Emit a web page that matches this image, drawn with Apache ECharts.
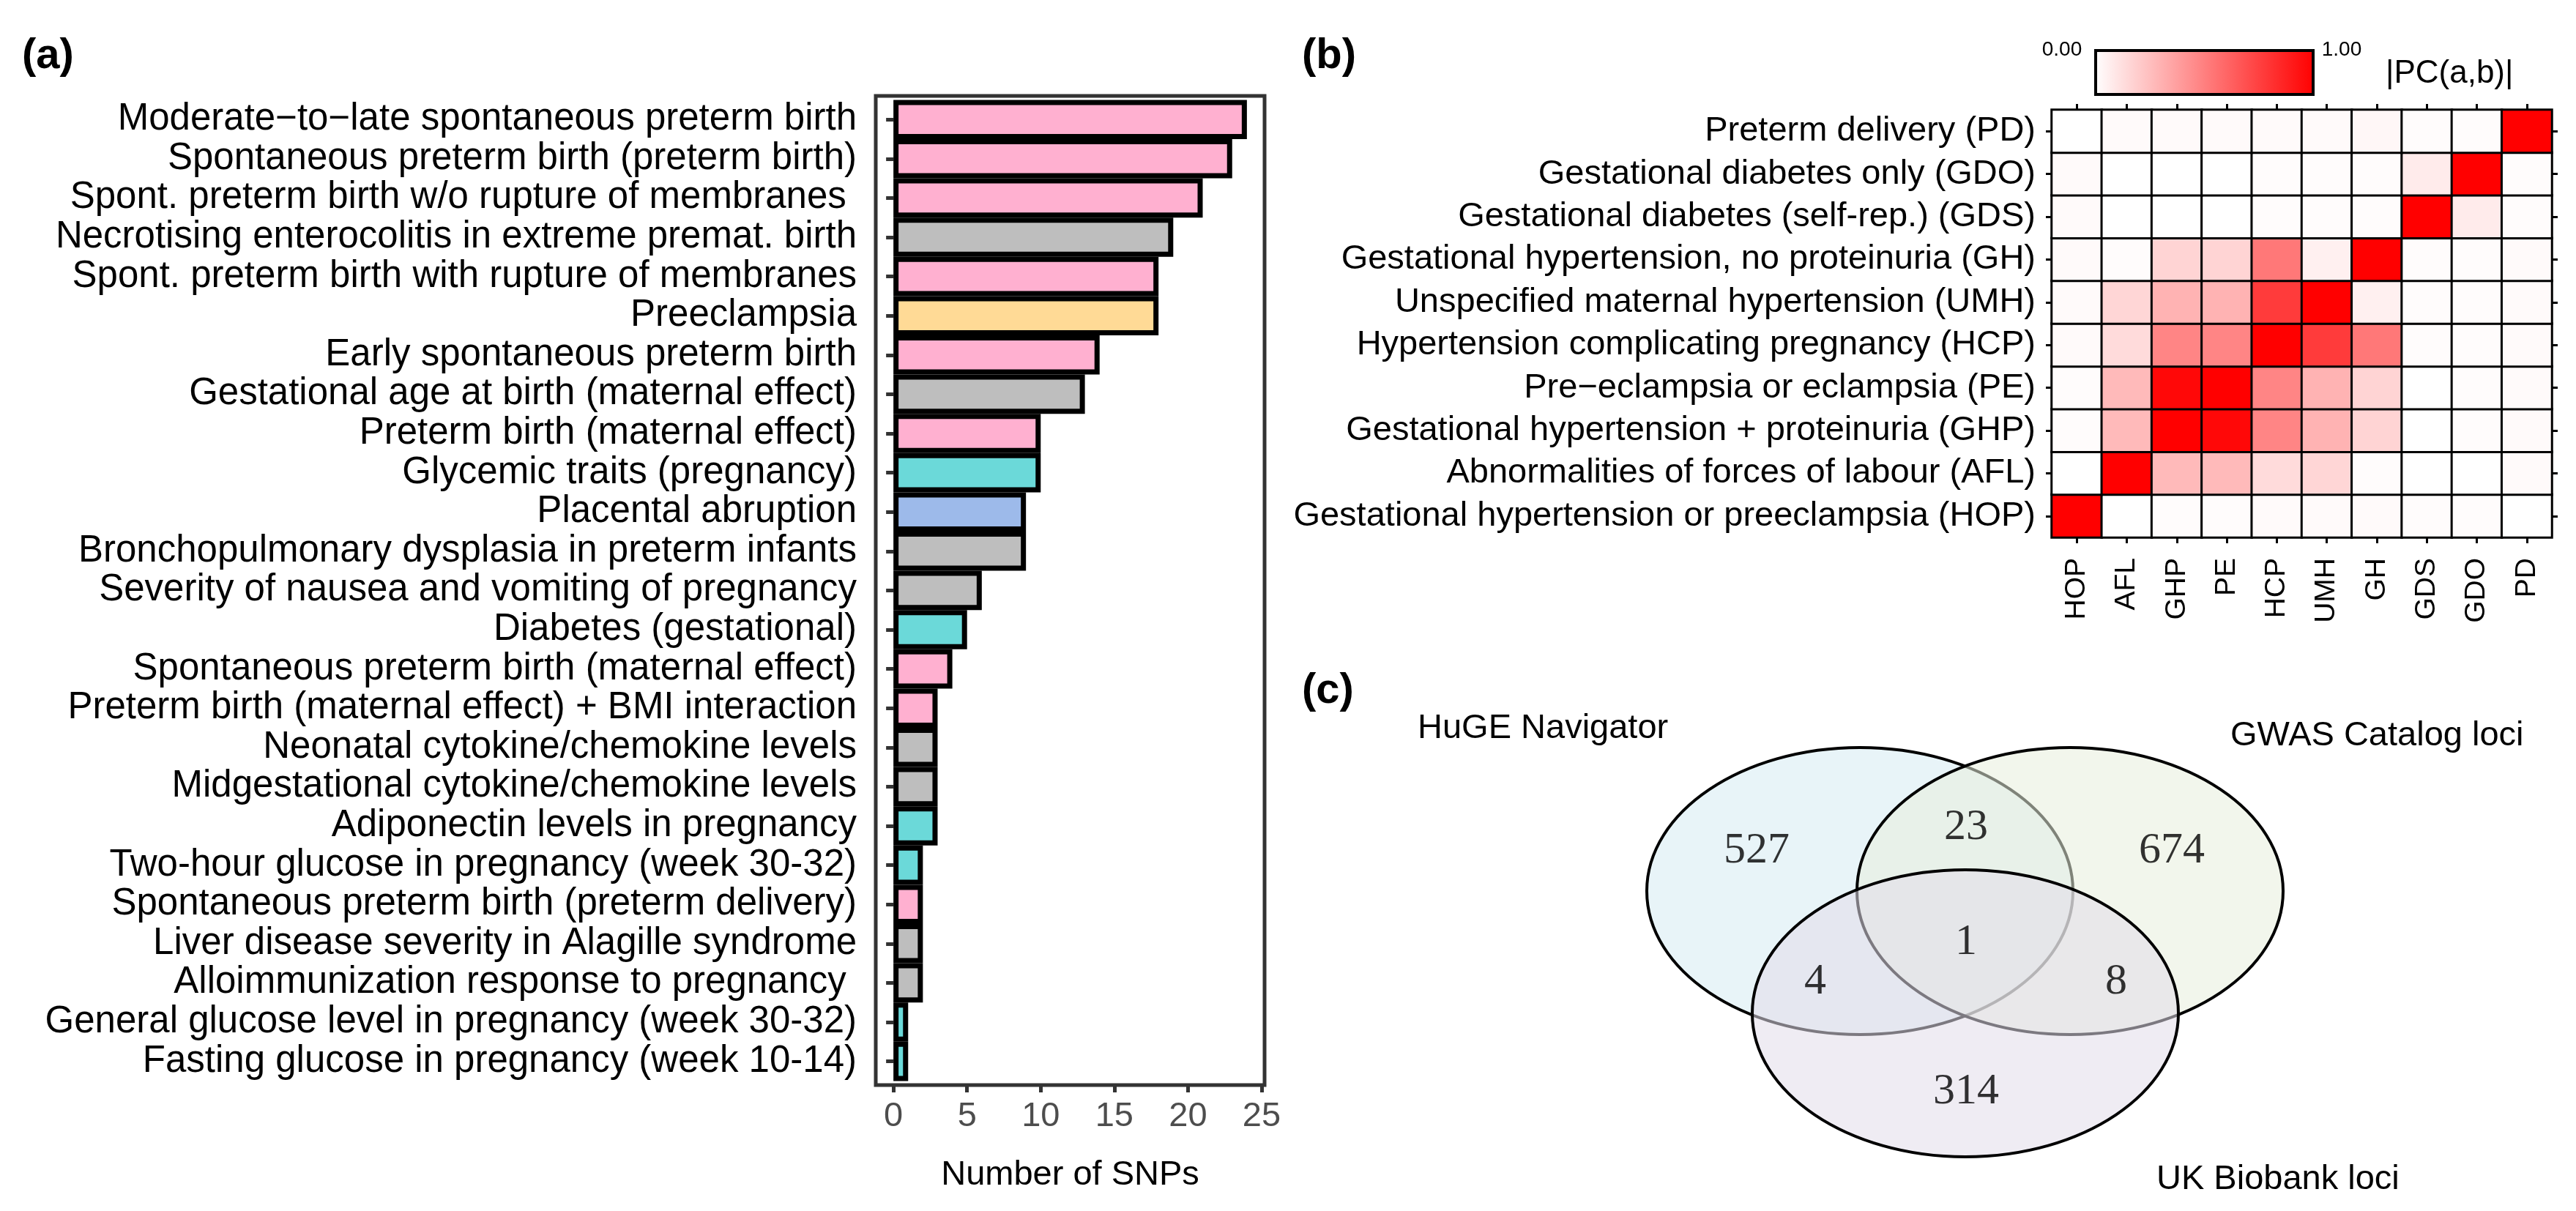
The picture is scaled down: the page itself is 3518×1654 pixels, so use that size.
<!DOCTYPE html>
<html><head><meta charset="utf-8">
<script src="https://cdn.jsdelivr.net/npm/echarts@6/dist/echarts.min.js"></script>
<style>html,body{margin:0;padding:0;background:#fff}#c{width:3518px;height:1654px}</style>
</head><body><div id="c"></div>
<script>
// ---------- Panel (a) data ----------
const traits = [
  'Moderate\u2212to\u2212late spontaneous preterm birth',
  'Spontaneous preterm birth (preterm birth)',
  'Spont. preterm birth w/o rupture of membranes ',
  'Necrotising enterocolitis in extreme premat. birth',
  'Spont. preterm birth with rupture of membranes',
  'Preeclampsia',
  'Early spontaneous preterm birth',
  'Gestational age at birth (maternal effect)',
  'Preterm birth (maternal effect)',
  'Glycemic traits (pregnancy)',
  'Placental abruption',
  'Bronchopulmonary dysplasia in preterm infants',
  'Severity of nausea and vomiting of pregnancy',
  'Diabetes (gestational)',
  'Spontaneous preterm birth (maternal effect)',
  'Preterm birth (maternal effect) + BMI interaction',
  'Neonatal cytokine/chemokine levels',
  'Midgestational cytokine/chemokine levels',
  'Adiponectin levels in pregnancy',
  'Two-hour glucose in pregnancy (week 30-32)',
  'Spontaneous preterm birth (preterm delivery)',
  'Liver disease severity in Alagille syndrome',
  'Alloimmunization response to pregnancy ',
  'General glucose level in pregnancy (week 30-32)',
  'Fasting glucose in pregnancy (week 10-14)'
];
const snpCounts = [24,23,21,19,18,18,14,13,10,10,9,9,6,5,4,3,3,3,3,2,2,2,2,1,1];
const traitGroups = ['preterm','preterm','preterm','other','preterm','preeclampsia','preterm','other','preterm','glycemic',
  'placental','other','other','glycemic','preterm','preterm','other','other','glycemic','glycemic',
  'preterm','other','other','glycemic','glycemic'];
const snpTicks = [0,5,10,15,20,25];

// ---------- Panel (b) data ----------
const pcCodes = ['HOP','AFL','GHP','PE','HCP','UMH','GH','GDS','GDO','PD'];
const pcNames = [
  'Gestational hypertension or preeclampsia (HOP)',
  'Abnormalities of forces of labour (AFL)',
  'Gestational hypertension + proteinuria (GHP)',
  'Pre\u2212eclampsia or eclampsia (PE)',
  'Hypertension complicating pregnancy (HCP)',
  'Unspecified maternal hypertension (UMH)',
  'Gestational hypertension, no proteinuria (GH)',
  'Gestational diabetes (self-rep.) (GDS)',
  'Gestational diabetes only (GDO)',
  'Preterm delivery (PD)'
];
// |PC(a,b)|, rows and columns in pcCodes order
const pcMatrix = [
  [1.00,0.00,0.01,0.01,0.02,0.02,0.02,0.01,0.01,0.00],
  [0.00,1.00,0.27,0.27,0.14,0.16,0.01,0.00,0.00,0.02],
  [0.01,0.27,1.00,0.97,0.48,0.30,0.17,0.00,0.01,0.02],
  [0.01,0.27,0.97,1.00,0.48,0.30,0.17,0.00,0.01,0.02],
  [0.02,0.14,0.48,0.48,1.00,0.77,0.53,0.01,0.01,0.02],
  [0.02,0.16,0.30,0.30,0.77,1.00,0.06,0.01,0.01,0.02],
  [0.02,0.01,0.17,0.17,0.53,0.06,1.00,0.01,0.01,0.02],
  [0.02,0.00,0.00,0.00,0.01,0.01,0.01,1.00,0.08,0.01],
  [0.02,0.00,0.00,0.00,0.01,0.01,0.01,0.08,1.00,0.01],
  [0.00,0.02,0.02,0.02,0.02,0.02,0.03,0.01,0.01,1.00]
];
const pcScaleLabels = ['0.00','1.00'];

// ---------- Panel (c) data ----------
const vennSets = ['HuGE Navigator','GWAS Catalog loci','UK Biobank loci'];
const vennRegions = ['HuGE only','HuGE & GWAS','GWAS only','HuGE & UKB','all three','GWAS & UKB','UKB only'];
const vennCounts = [527, 23, 674, 4, 1, 8, 314];

// ---------- layout / style constants ----------
const FONT = 'Liberation Sans';
const groupColors = {preterm:'#FFB0D0', other:'#BEBEBE', preeclampsia:'#FFDA96', glycemic:'#6BD9D9', placental:'#9DBAEA'};
// Venn geometry in venn-grid units (1 unit = 1 px)
const vennEllipses = [[340,267,291,196],[627,267,291,196],[484,434,291,196]];
const vennFills = ['rgba(213,235,243,0.55)','rgba(231,239,221,0.55)','rgba(226,221,233,0.55)'];
const vennLabelPos = [[199,212],[485,180],[766,212],[279,391],[485,337],[690,391],[485,541]];

const chart = echarts.init(document.getElementById('c'), null, {renderer:'canvas'});

const heatData = [];
pcMatrix.forEach((row, yi) => row.forEach((v, xi) => heatData.push([xi, yi, v])));

const tickStyle = {color:'#333333', width:5};
const hmTick = {show:true, alignWithLabel:true, length:8, lineStyle:{color:'#000', width:3}};

const option = {
  animation:false,
  backgroundColor:'#fff',
  textStyle:{fontFamily:FONT},
  grid:[
    {left:1196, top:131, width:531, height:1351, show:true, borderColor:'#333333', borderWidth:5, backgroundColor:'transparent'},
    {left:1196, top:136.4, width:531, height:1340},
    {left:2802, top:150, width:683, height:584},
    {left:2200, top:950, width:1000, height:700}
  ],
  xAxis:[
    {gridIndex:0, type:'value', min:-1.2, max:25.2, axisLine:{show:false}, splitLine:{show:false},
     axisTick:{show:true, customValues:snpTicks, length:10, lineStyle:tickStyle},
     axisLabel:{customValues:snpTicks, color:'#4D4D4D', fontSize:47, margin:20, fontFamily:FONT},
     name:'Number of SNPs', nameLocation:'middle', nameGap:100,
     nameTextStyle:{fontSize:47, color:'#000', fontFamily:FONT}},
    {gridIndex:1, type:'value', min:-1.2, max:25.2, show:false},
    {gridIndex:2, type:'category', data:pcCodes, position:'bottom', axisLine:{show:false}, axisTick:hmTick,
     axisLabel:{interval:0, rotate:90, fontSize:39, color:'#000', margin:28, fontFamily:FONT}},
    {gridIndex:2, type:'category', data:pcCodes, position:'top', axisLine:{show:false}, axisTick:hmTick,
     axisLabel:{show:false}},
    {gridIndex:3, type:'value', min:0, max:1000, show:false}
  ],
  yAxis:[
    {gridIndex:0, type:'value', show:false},
    {gridIndex:1, type:'category', data:traits, inverse:true, axisLine:{show:false},
     axisTick:{show:true, alignWithLabel:true, interval:0, length:10, lineStyle:tickStyle},
     axisLabel:{interval:0, fontSize:51, color:'#000', margin:26, fontFamily:FONT}},
    {gridIndex:2, type:'category', data:pcNames, position:'left', axisLine:{show:false}, axisTick:Object.assign({interval:0}, hmTick),
     axisLabel:{interval:0, fontSize:47, color:'#000', margin:22, fontFamily:FONT}},
    {gridIndex:2, type:'category', data:pcNames, position:'right', axisLine:{show:false}, axisTick:Object.assign({interval:0}, hmTick),
     axisLabel:{show:false}},
    {gridIndex:3, type:'value', min:0, max:700, inverse:true, show:false}
  ],
  visualMap:{show:false, type:'continuous', min:0, max:1, dimension:2, seriesIndex:1,
    inRange:{color:['#FFFFFF','#FF0000']}},
  series:[
    {type:'bar', xAxisIndex:1, yAxisIndex:1, barWidth:'100%',
     data: snpCounts.map((v,i)=>({value:v, itemStyle:{color:groupColors[traitGroups[i]]}})),
     itemStyle:{borderColor:'#000', borderWidth:7}, emphasis:{disabled:true}},
    {type:'heatmap', xAxisIndex:2, yAxisIndex:2, data:heatData,
     itemStyle:{borderColor:'#000', borderWidth:3}, emphasis:{disabled:true}},
    {type:'custom', xAxisIndex:4, yAxisIndex:4, data:vennEllipses, silent:true, z:2,
     renderItem:function(params, api){
       const c = api.coord([api.value(0), api.value(1)]);
       const s = api.size([api.value(2), api.value(3)]);
       return {type:'ellipse', shape:{cx:c[0], cy:c[1], rx:s[0], ry:s[1]},
         style:{fill:vennFills[params.dataIndex], stroke:'#000', lineWidth:4}};
     }},
    {type:'scatter', xAxisIndex:4, yAxisIndex:4, symbol:'circle', symbolSize:1, z:5,
     itemStyle:{color:'rgba(0,0,0,0)'}, silent:true,
     data: vennCounts.map((v,i)=>({value:[vennLabelPos[i][0], vennLabelPos[i][1]], count:v, name:vennRegions[i]})),
     label:{show:true, position:'inside', formatter:(p)=>String(p.data.count),
       fontFamily:'Liberation Serif', fontSize:60, color:'#000'},
     labelLayout:{hideOverlap:false}}
  ],
  graphic:[
    {type:'text', left:30, top:48, style:{text:'(a)', font:'bold 58px "Liberation Sans"', fill:'#000'}},
    {type:'text', left:1778, top:48, style:{text:'(b)', font:'bold 58px "Liberation Sans"', fill:'#000'}},
    {type:'text', left:1778, top:915, style:{text:'(c)', font:'bold 58px "Liberation Sans"', fill:'#000'}},
    {type:'rect', shape:{x:2862, y:69, width:297, height:60},
     style:{fill:new echarts.graphic.LinearGradient(0,0,1,0,[{offset:0,color:'#FFFFFF'},{offset:1,color:'#FF0000'}]), stroke:'#000', lineWidth:4}},
    {type:'text', x:2816, y:68, style:{text:pcScaleLabels[0], font:'28px "Liberation Sans"', fill:'#000', align:'center', verticalAlign:'middle'}},
    {type:'text', x:3198, y:68, style:{text:pcScaleLabels[1], font:'28px "Liberation Sans"', fill:'#000', align:'center', verticalAlign:'middle'}},
    {type:'text', x:3258, y:101, style:{text:'|PC(a,b)|', font:'44px "Liberation Sans"', fill:'#000', align:'left', verticalAlign:'middle'}},
    {type:'text', x:1936, y:995, style:{text:vennSets[0], font:'47px "Liberation Sans"', fill:'#000', align:'left', verticalAlign:'middle'}},
    {type:'text', x:3046, y:1005, style:{text:vennSets[1], font:'47px "Liberation Sans"', fill:'#000', align:'left', verticalAlign:'middle'}},
    {type:'text', x:2945, y:1611, style:{text:vennSets[2], font:'47px "Liberation Sans"', fill:'#000', align:'left', verticalAlign:'middle'}}
  ]
};
chart.setOption(option);
</script></body></html>
